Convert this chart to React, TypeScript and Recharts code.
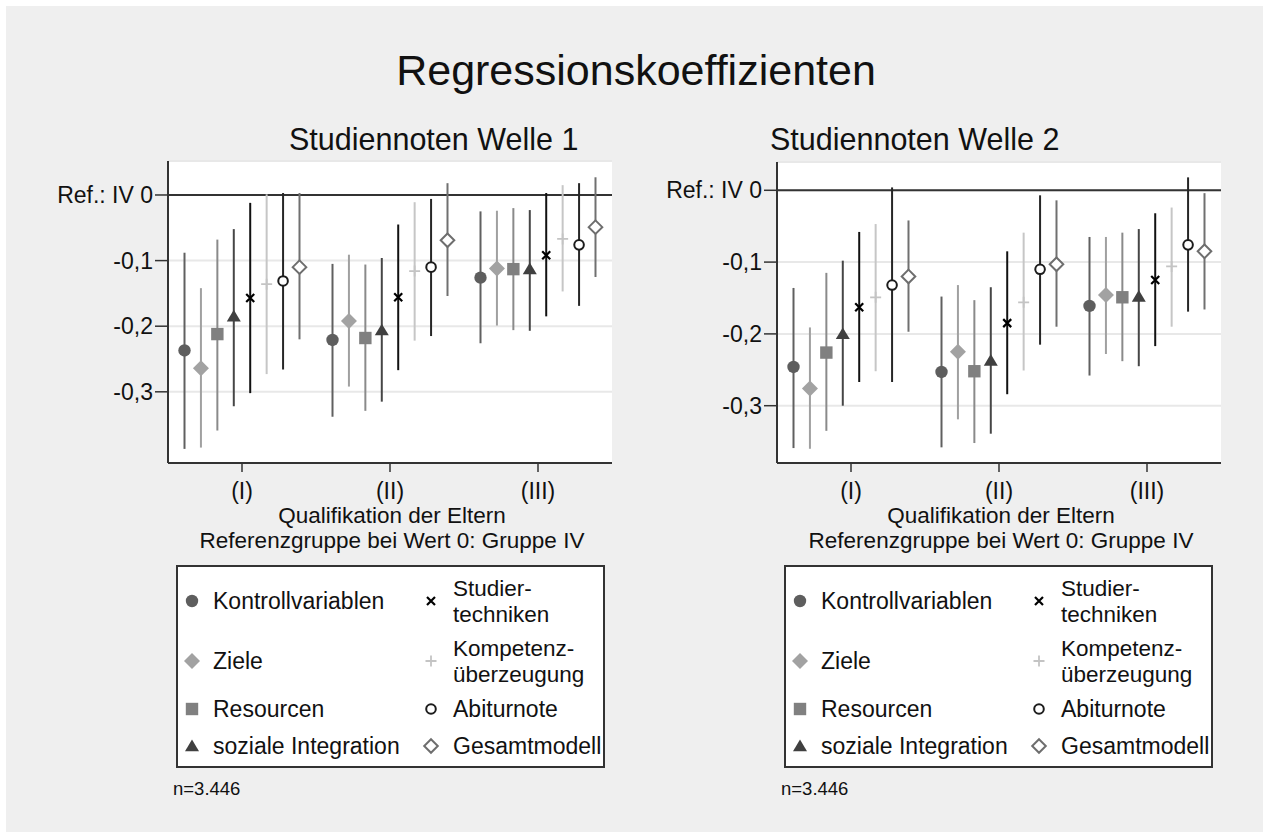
import React from 'react';
import { ScatterChart, Scatter, ErrorBar, XAxis, YAxis, CartesianGrid, ReferenceLine } from 'recharts';

const FONT = '"Liberation Sans", Arial, Helvetica, sans-serif';

// Kategorien auf der x-Achse (Qualifikation der Eltern)
const kategorien = ['(I)', '(II)', '(III)'];
const yTicks = [-0.3, -0.2, -0.1, 0];

const reihen = [
  'Kontrollvariablen',
  'Ziele',
  'Resourcen',
  'soziale Integration',
  'Studiertechniken',
  'Kompetenzüberzeugung',
  'Abiturnote',
  'Gesamtmodell',
];
const legendeText = [
  ['Kontrollvariablen'],
  ['Ziele'],
  ['Resourcen'],
  ['soziale Integration'],
  ['Studier-', 'techniken'],
  ['Kompetenz-', 'überzeugung'],
  ['Abiturnote'],
  ['Gesamtmodell'],
];

// Welle 1: Koeffizienten und Konfidenzgrenzen, je Reihe (I), (II), (III)
const welle1Koef = [
  [-0.237, -0.221, -0.126],
  [-0.264, -0.192, -0.112],
  [-0.212, -0.218, -0.113],
  [-0.185, -0.206, -0.113],
  [-0.157, -0.156, -0.092],
  [-0.136, -0.116, -0.067],
  [-0.131, -0.11, -0.076],
  [-0.11, -0.069, -0.049],
];
const welle1Unten = [
  [-0.387, -0.338, -0.226],
  [-0.385, -0.292, -0.199],
  [-0.359, -0.329, -0.206],
  [-0.322, -0.315, -0.207],
  [-0.302, -0.267, -0.185],
  [-0.273, -0.222, -0.147],
  [-0.266, -0.215, -0.169],
  [-0.22, -0.154, -0.125],
];
const welle1Oben = [
  [-0.088, -0.105, -0.025],
  [-0.142, -0.091, -0.024],
  [-0.068, -0.106, -0.02],
  [-0.052, -0.096, -0.023],
  [-0.012, -0.045, 0.003],
  [0.001, -0.011, 0.015],
  [0.003, -0.006, 0.018],
  [0.003, 0.018, 0.027],
];

// Welle 2
const welle2Koef = [
  [-0.246, -0.253, -0.161],
  [-0.276, -0.225, -0.146],
  [-0.226, -0.252, -0.149],
  [-0.2, -0.237, -0.148],
  [-0.163, -0.185, -0.125],
  [-0.149, -0.156, -0.106],
  [-0.132, -0.11, -0.076],
  [-0.12, -0.103, -0.085],
];
const welle2Unten = [
  [-0.359, -0.358, -0.258],
  [-0.36, -0.319, -0.228],
  [-0.335, -0.352, -0.238],
  [-0.3, -0.339, -0.245],
  [-0.267, -0.284, -0.217],
  [-0.252, -0.251, -0.19],
  [-0.267, -0.215, -0.169],
  [-0.197, -0.19, -0.166],
];
const welle2Oben = [
  [-0.136, -0.148, -0.065],
  [-0.191, -0.132, -0.065],
  [-0.115, -0.153, -0.059],
  [-0.098, -0.135, -0.054],
  [-0.058, -0.085, -0.032],
  [-0.047, -0.059, -0.024],
  [0.004, -0.007, 0.018],
  [-0.042, -0.014, -0.004],
];

const STIL = [
  { kind: 'circle', color: '#5e5e5e', line: '#606060' },
  { kind: 'diamond', color: '#a2a2a2', line: '#a0a0a0' },
  { kind: 'square', color: '#808080', line: '#8a8a8a' },
  { kind: 'triangle', color: '#404040', line: '#464646' },
  { kind: 'x', color: '#000000', line: '#111111' },
  { kind: 'plus', color: '#c4c4c4', line: '#c6c6c6' },
  { kind: 'ocircle', color: '#1c1c1c', line: '#262626' },
  { kind: 'odiamond', color: '#6e6e6e', line: '#707070' },
];

const Mark = ({ kind, color, cx, cy }: { kind: string; color: string; cx: number; cy: number }) => {
  switch (kind) {
    case 'circle':
      return <circle cx={cx} cy={cy} r={6.2} fill={color} />;
    case 'diamond':
      return <polygon points={`${cx},${cy - 8} ${cx + 8},${cy} ${cx},${cy + 8} ${cx - 8},${cy}`} fill={color} />;
    case 'square':
      return <rect x={cx - 6.2} y={cy - 6.2} width={12.4} height={12.4} fill={color} />;
    case 'triangle':
      return <polygon points={`${cx},${cy - 6.5} ${cx + 7},${cy + 5.2} ${cx - 7},${cy + 5.2}`} fill={color} />;
    case 'x':
      return (
        <path
          d={`M${cx - 4},${cy - 4}L${cx + 4},${cy + 4}M${cx + 4},${cy - 4}L${cx - 4},${cy + 4}`}
          stroke={color}
          strokeWidth={2.2}
        />
      );
    case 'plus':
      return (
        <path d={`M${cx - 5.5},${cy}L${cx + 5.5},${cy}M${cx},${cy - 5.5}L${cx},${cy + 5.5}`} stroke={color} strokeWidth={1.8} />
      );
    case 'ocircle':
      return <circle cx={cx} cy={cy} r={4.8} fill="#fff" stroke={color} strokeWidth={2} />;
    default:
      return (
        <polygon
          points={`${cx},${cy - 6.8} ${cx + 6.8},${cy} ${cx},${cy + 6.8} ${cx - 6.8},${cy}`}
          fill="#fff"
          stroke={color}
          strokeWidth={2}
        />
      );
  }
};

const zeilen = (koef: number[][], unten: number[][], oben: number[][], s: number) =>
  kategorien.map((k, g) => ({
    gruppe: k,
    x: g + 0.5 + (s - 3.5) * 0.111,
    y: koef[s][g],
    err: [koef[s][g] - unten[s][g], oben[s][g] - koef[s][g]],
  }));

const fmtY = (v: number) => (v === 0 ? 'Ref.: IV 0' : v.toFixed(1).replace('.', ','));

interface PanelProps {
  koef: number[][];
  unten: number[][];
  oben: number[][];
  domain: [number, number];
  top: number;
}

const Panel: React.FC<PanelProps> = ({ koef, unten, oben, domain, top }) => (
  <ScatterChart width={590} height={360} margin={{ top, right: 18, bottom: 0, left: 0 }}>
    <CartesianGrid vertical={false} stroke="#e8e8e8" strokeWidth={2} fill="#ffffff" fillOpacity={1} />
    <XAxis
      type="number"
      dataKey="x"
      domain={[0, 3]}
      ticks={[0.5, 1.5, 2.5]}
      interval={0}
      tickFormatter={(v: number) => kategorien[Math.floor(v)]}
      height={360 - 313}
      axisLine={{ stroke: '#333', strokeWidth: 2 }}
      tickLine={{ stroke: '#333', strokeWidth: 1.5 }}
      tickSize={9}
      tickMargin={11}
      tick={{ fill: '#111', fontSize: 23, fontFamily: FONT }}
    />
    <YAxis
      type="number"
      dataKey="y"
      domain={domain}
      allowDataOverflow
      ticks={yTicks}
      interval={0}
      tickFormatter={fmtY}
      width={128}
      axisLine={{ stroke: '#333', strokeWidth: 2 }}
      tickLine={{ stroke: '#333', strokeWidth: 1.5 }}
      tickSize={13}
      tickMargin={2}
      tick={{ fill: '#111', fontSize: 23, fontFamily: FONT }}
    />
    <ReferenceLine y={0} stroke="#333" strokeWidth={2} />
    {reihen.map((name, s) => (
      <Scatter
        key={name}
        name={name}
        data={zeilen(koef, unten, oben, s)}
        isAnimationActive={false}
        shape={(p: any) => <Mark kind={STIL[s].kind} color={STIL[s].color} cx={p.cx} cy={p.cy} />}
      >
        <ErrorBar
          dataKey="err"
          direction="y"
          width={0}
          stroke={STIL[s].line}
          strokeWidth={2}
          isAnimationActive={false}
        />
      </Scatter>
    ))}
  </ScatterChart>
);

const Legende = ({ x, y }: { x: number; y: number }) => {
  const rowY = [35, 95, 143, 180];
  return (
    <g>
      <rect x={x} y={y} width={427} height={201} fill="#fff" stroke="#333" strokeWidth={2} />
      {reihen.map((name, s) => {
        const col = s < 4 ? 0 : 1;
        const cy = y + rowY[s % 4];
        const mx = x + (col === 0 ? 15 : 254);
        const tx = x + (col === 0 ? 36 : 276);
        const lines = legendeText[s];
        return (
          <g key={name}>
            <Mark kind={STIL[s].kind} color={STIL[s].color} cx={mx} cy={cy} />
            {lines.map((t, i) => (
              <text
                key={t}
                x={tx}
                y={cy + 8 + (lines.length === 2 ? (i === 0 ? -12.6 : 12.6) : 0)}
                fontSize={lines.length === 2 ? 22.5 : 23}
                fontFamily={FONT}
                fill="#111"
              >
                {t}
              </text>
            ))}
          </g>
        );
      })}
    </g>
  );
};

const AchsenTitel = ({ cx }: { cx: number }) => (
  <g fontFamily={FONT} fontSize={22.5} fill="#111" textAnchor="middle">
    <text x={cx} y={522.5}>Qualifikation der Eltern</text>
    <text x={cx} y={547.7}>Referenzgruppe bei Wert 0: Gruppe IV</text>
  </g>
);

export default function App() {
  return (
    <div
      style={{ position: 'absolute', left: 0, top: 0, width: 1263, height: 832, background: '#fff', overflow: 'hidden' }}
    >
      <svg width={1263} height={832} style={{ position: 'absolute', left: 0, top: 0 }}>
        <rect x={6} y={6} width={1257} height={826} fill="#efefef" />
        <text x={636} y={85} textAnchor="middle" fontSize={43} fontFamily={FONT} fill="#111">
          Regressionskoeffizienten
        </text>
        <text x={289} y={150} fontSize={30.5} fontFamily={FONT} fill="#111">
          Studiennoten Welle 1
        </text>
        <text x={770} y={150} fontSize={30.5} fontFamily={FONT} fill="#111">
          Studiennoten Welle 2
        </text>
        <AchsenTitel cx={392} />
        <AchsenTitel cx={1001} />
        <Legende x={177} y={566} />
        <Legende x={785} y={566} />
        <text x={173} y={795} fontSize={18.5} fontFamily={FONT} fill="#111">
          n=3.446
        </text>
        <text x={781} y={795} fontSize={18.5} fontFamily={FONT} fill="#111">
          n=3.446
        </text>
      </svg>
      <div style={{ position: 'absolute', left: 40, top: 150 }}>
        <Panel koef={welle1Koef} unten={welle1Unten} oben={welle1Oben} domain={[-0.4085, 0.0518]} top={11} />
      </div>
      <div style={{ position: 'absolute', left: 649, top: 150 }}>
        <Panel koef={welle2Koef} unten={welle2Unten} oben={welle2Oben} domain={[-0.3798, 0.0394]} top={12} />
      </div>
    </div>
  );
}
